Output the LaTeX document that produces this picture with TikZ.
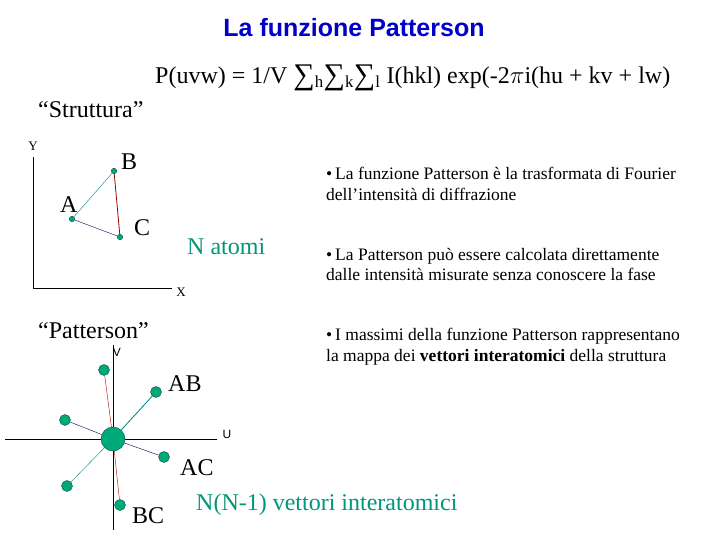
\documentclass[tikz,border=0pt]{standalone}
\usepackage{fontspec}
\setmainfont{Liberation Serif}
\setsansfont{Liberation Sans}
\begin{document}
\begin{tikzpicture}[x=1pt,y=-1pt,
  txt/.style={inner sep=0pt,anchor=west,font=\fontsize{24}{28}\selectfont},
  btxt/.style={inner sep=0pt,anchor=north west,align=left,font=\fontsize{17.5}{20.5}\selectfont},
  axl/.style={inner sep=0pt,font=\fontsize{13}{15}\selectfont}]
\definecolor{tcol}{RGB}{0,150,120}
\definecolor{dotc}{RGB}{0,170,120}
\tikzset{sdot/.style={circle,fill=dotc,draw=teal!60!black,inner sep=0pt,minimum size=5.5pt},
  pdot/.style={circle,fill=dotc,draw=teal!60!black,inner sep=0pt,minimum size=11pt}}
\newcommand{\bigsum}{{\fontsize{30}{30}\selectfont\raisebox{-1pt}{∑}}}
\path[use as bounding box] (0,0) rectangle (720,540);
\node[inner sep=0pt,font=\sffamily\bfseries\fontsize{25}{30}\selectfont,text={rgb,255:red,0;green,0;blue,200}] (title) at (354,28) {La funzione Patterson};
\node[txt] (f) at (155,78) {P(uvw) = 1/V \bigsum\textsubscript{h}\bigsum\textsubscript{k}\bigsum\textsubscript{l} I(hkl) exp(-2$\pi$i(hu + kv + lw)};
\node[txt] (s) at (38,110) {“Struttura”};
% structure
\coordinate (yt) at (33,157); \coordinate (o) at (33,288); \coordinate (xe) at (172,288);
\draw (yt) -- (o) -- (xe);
\node[axl] (Y) at (33,146) {Y};
\node[axl] (X) at (181,292) {X};
\node[sdot] (A) at (72,219) {};
\node[sdot] (B) at (114,171) {};
\node[sdot] (C) at (120,237) {};
\draw[teal,thin] (A) -- (B);
\draw[red!60!black,thick] (B) -- (C);
\draw[blue!30!black] (A) -- (C);
\node[txt] (lA) at (60,205) {A};
\node[txt] (lB) at (121,162) {B};
\node[txt] (lC) at (134,228) {C};
\node[txt,text=tcol] (na) at (187,247) {N atomi};
% bullets
\node[btxt] (b1) at (326,167) {\textbullet\,La funzione Patterson è la trasformata di Fourier\\dell’intensità di diffrazione};
\node[btxt] (b2) at (326,248) {\textbullet\,La Patterson può essere calcolata direttamente\\dalle intensità misurate senza conoscere la fase};
\node[btxt] (b3) at (326,328) {\textbullet\,I massimi della funzione Patterson rappresentano\\la mappa dei \textbf{vettori interatomici} della struttura};
% patterson
\node[txt] (p) at (38,331) {“Patterson”};
\coordinate (vt) at (113,345); \coordinate (vb) at (113,530);
\coordinate (ul) at (5,439); \coordinate (ur) at (217,439);
\draw (vt) -- (vb); \draw (ul) -- (ur);
\node[axl,font=\sffamily\fontsize{12}{14}\selectfont] (V) at (117,352) {V};
\node[axl,font=\sffamily\fontsize{12}{14}\selectfont] (U) at (227,434) {U};
\node[circle,fill=dotc,draw=teal!60!black,inner sep=0pt,minimum size=24pt] (O) at (113,439) {};
\node[pdot] (p1) at (104,370) {};
\node[pdot] (p2) at (156,392) {};
\node[pdot] (p3) at (65,420) {};
\node[pdot] (p4) at (164,457) {};
\node[pdot] (p5) at (67,486) {};
\node[pdot] (p6) at (120,505) {};
\draw[red!70!black] (O) -- (p1); \draw[red!70!black] (O) -- (p6);
\draw[teal,thick] (O) -- (p2); \draw[teal] (O) -- (p5);
\draw[blue!30!black] (O) -- (p3); \draw[blue!30!black] (O) -- (p4);
\node[txt] (lAB) at (168,384) {AB};
\node[txt] (lAC) at (180,468) {AC};
\node[txt] (lBC) at (132,516) {BC};
\node[txt,text=tcol] (nv) at (196,505) {N(N-1) vettori interatomici};
\end{tikzpicture}
\end{document}
